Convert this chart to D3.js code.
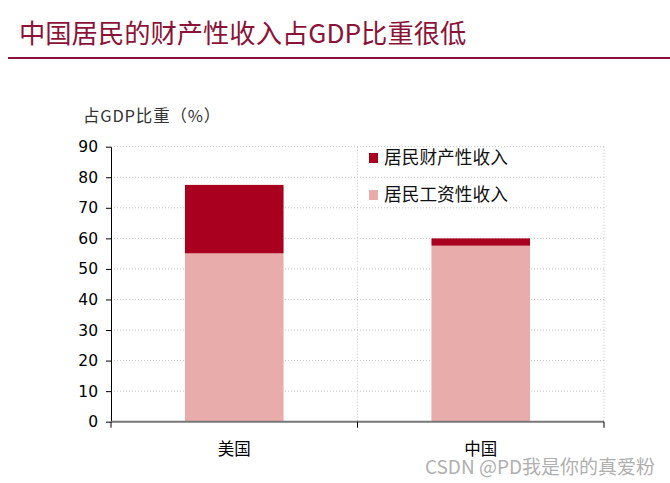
<!DOCTYPE html>
<html><head><meta charset="utf-8">
<script src="https://cdn.jsdelivr.net/npm/d3@7"></script>
<style>body{margin:0;background:#fff}svg{display:block}</style>
</head><body>
<script>
const categories = ["美国", "中国"];
const seriesNames = ["居民工资性收入", "居民财产性收入"];
const wageIncome = [55.1, 57.6];
const propertyIncome = [22.4, 2.4];
const yTicks = [0, 10, 20, 30, 40, 50, 60, 70, 80, 90];
const colors = ["#e8adab", "#a8001e"];

const W = 670, H = 483;
const svg = d3.select("body").append("svg").attr("width", W).attr("height", H);

const x = d3.scaleBand().domain(categories).range([111, 604]).paddingInner(0.6).paddingOuter(0.3);
const y = d3.scaleLinear().domain([0, 90]).range([421.7, 146.7]);

// title
svg.append("text").attr("x", 19).attr("y", 43).text("中国居民的财产性收入占GDP比重很低")
  .attr("font-family", "Noto Sans CJK SC").attr("font-size", 26.3).attr("fill", "#8c1338");
svg.append("line").attr("x1", 8).attr("x2", 670).attr("y1", 58).attr("y2", 58)
  .attr("stroke", "#8c1338").attr("stroke-width", 2);

// y label
svg.append("text").attr("x", 83).attr("y", 122).text("占GDP比重（%）")
  .attr("font-family", "Noto Sans CJK SC").attr("font-size", 16.5).attr("letter-spacing", 0.8).attr("fill", "#333");

// grid
const grid = svg.append("g");
grid.selectAll("line.h").data(yTicks.filter(d => d > 0)).join("line")
  .attr("x1", 111).attr("x2", 604).attr("y1", d => y(d)).attr("y2", d => y(d))
  .attr("stroke", "#c8c8c8").attr("stroke-dasharray", "1,2");
const bounds = [x.range()[0] + x.step() * 1, x.range()[1]];
grid.selectAll("line.v").data(bounds).join("line")
  .attr("x1", d => d).attr("x2", d => d).attr("y1", y(90)).attr("y2", y(0))
  .attr("stroke", "#c8c8c8").attr("stroke-dasharray", "1,2");

// bars
const stacked = categories.map((c, i) => ({c, w: wageIncome[i], p: propertyIncome[i]}));
svg.append("g").selectAll("rect").data(stacked).join("rect")
  .attr("x", d => x(d.c)).attr("width", x.bandwidth())
  .attr("y", d => y(d.w)).attr("height", d => y(0) - y(d.w)).attr("fill", colors[0]);
svg.append("g").selectAll("rect").data(stacked).join("rect")
  .attr("x", d => x(d.c)).attr("width", x.bandwidth())
  .attr("y", d => y(d.w + d.p)).attr("height", d => y(d.w) - y(d.w + d.p)).attr("fill", colors[1]);

// y axis
const yAxis = svg.append("g").attr("transform", "translate(111,0)")
  .call(d3.axisLeft(y).tickValues(yTicks).tickSize(5).tickSizeOuter(0));
yAxis.select(".domain").attr("stroke", "#000");
yAxis.selectAll(".tick line").attr("stroke", "#000");
yAxis.selectAll("text").attr("font-family", "DejaVu Sans").attr("font-size", 15.5).attr("fill", "#000").attr("x", -13);

// x axis
const xAxis = svg.append("g").attr("transform", `translate(0,${y(0)})`);
xAxis.append("line").attr("x1", 111).attr("x2", 604).attr("stroke", "#777").attr("stroke-width", 2);
const bTicks = [111, bounds[0], bounds[1]];
xAxis.selectAll("line.t").data(bTicks).join("line")
  .attr("x1", d => d).attr("x2", d => d).attr("y1", 0).attr("y2", 6).attr("stroke", "#000");
xAxis.selectAll("text").data(categories).join("text")
  .attr("x", d => x(d) + x.bandwidth() / 2).attr("y", 33).attr("text-anchor", "middle")
  .attr("font-family", "Noto Sans CJK SC").attr("font-size", 16.5).attr("fill", "#000").text(d => d);

// legend
const legend = [{name: seriesNames[1], color: colors[1], y: 158}, {name: seriesNames[0], color: colors[0], y: 195}];
const lg = svg.append("g").selectAll("g").data(legend).join("g");
lg.append("rect").attr("x", 369).attr("y", d => d.y - 5).attr("width", 9).attr("height", 10).attr("fill", d => d.color);
lg.append("text").attr("x", 384).attr("y", d => d.y).attr("dy", "0.35em").text(d => d.name)
  .attr("font-family", "Noto Sans CJK SC").attr("font-size", 17.7).attr("fill", "#111");

// watermark
svg.append("text").attr("x", 655).attr("y", 474).attr("text-anchor", "end").text("CSDN @PD我是你的真爱粉")
  .attr("font-family", "Noto Sans CJK SC").attr("font-size", 19).attr("fill", "#b0b0b0");
</script>
</body></html>
